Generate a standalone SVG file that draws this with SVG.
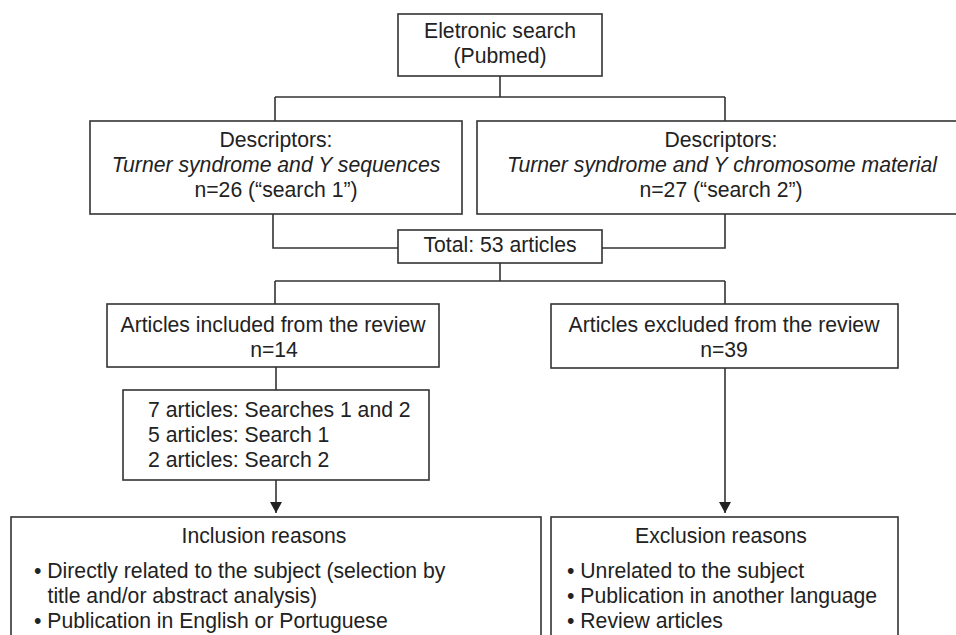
<svg xmlns="http://www.w3.org/2000/svg" width="956" height="635" viewBox="0 0 956 635">
<defs>
<style>
.box{fill:#fff;stroke:#333;stroke-width:1.6}
.ln{fill:none;stroke:#333;stroke-width:1.6}
text{font-family:"Liberation Sans",Arial,Helvetica,sans-serif;font-size:21.2px;fill:#222}
.c{text-anchor:middle}
.i{font-style:italic}
</style>
<marker id="ah" viewBox="0 0 11 12" refX="11" refY="6" markerWidth="11" markerHeight="12" markerUnits="userSpaceOnUse" orient="auto">
<path d="M0,0 L11,6 L0,12 Z" fill="#222"/>
</marker>
</defs>
<rect width="956" height="635" fill="#fff"/>
<g id="connectors">
<path class="ln" d="M500,76 V97 M275,97 H725 M275,97 V121 M725,97 V121"/>
<path class="ln" d="M273,214 V248 H398 M725,214 V248 H602"/>
<path class="ln" d="M500,263 V281 M275,281 H725 M275,281 V304 M725,281 V304"/>
<path class="ln" d="M276,367 V390"/>
<line class="ln" x1="276" y1="480" x2="276" y2="513" marker-end="url(#ah)"/>
<line class="ln" x1="725" y1="368" x2="725" y2="513" marker-end="url(#ah)"/>
</g>
<g id="search">
<rect class="box" x="398" y="14" width="204" height="62"/>
<text class="c" x="500" y="38">Eletronic search</text>
<text class="c" x="500" y="63">(Pubmed)</text>
</g>
<g id="desc1">
<rect class="box" x="90" y="121" width="372" height="93"/>
<text class="c" x="276" y="147">Descriptors:</text>
<text class="c i" x="276" y="172">Turner syndrome and Y sequences</text>
<text class="c" x="276" y="197">n=26 (“search 1”)</text>
</g>
<g id="desc2">
<rect class="box" x="477" y="121" width="490" height="93"/>
<text class="c" x="721" y="147">Descriptors:</text>
<text class="c i" x="722" y="172">Turner syndrome and Y chromosome material</text>
<text class="c" x="721" y="197">n=27 (“search 2”)</text>
</g>
<g id="total">
<rect class="box" x="398" y="230" width="204" height="33"/>
<text class="c" x="500" y="252">Total: 53 articles</text>
</g>
<g id="included">
<rect class="box" x="107" y="304" width="332" height="63"/>
<text class="c" x="273" y="332">Articles included from the review</text>
<text class="c" x="274" y="357">n=14</text>
</g>
<g id="excluded">
<rect class="box" x="551" y="304" width="347" height="64"/>
<text class="c" x="724" y="332">Articles excluded from the review</text>
<text class="c" x="724" y="357">n=39</text>
</g>
<g id="breakdown">
<rect class="box" x="123" y="390" width="306" height="90"/>
<text x="148" y="417">7 articles: Searches 1 and 2</text>
<text x="148" y="442">5 articles: Search 1</text>
<text x="148" y="467">2 articles: Search 2</text>
</g>
<g id="inclusion">
<rect class="box" x="11" y="517" width="530" height="130"/>
<text class="c" x="264" y="543">Inclusion reasons</text>
<text x="34" y="578">• Directly related to the subject (selection by</text>
<text x="47.5" y="603">title and/or abstract analysis)</text>
<text x="34" y="628">• Publication in English or Portuguese</text>
</g>
<g id="exclusion">
<rect class="box" x="551" y="517" width="347" height="130"/>
<text class="c" x="721" y="543">Exclusion reasons</text>
<text x="567" y="578">• Unrelated to the subject</text>
<text x="567" y="603">• Publication in another language</text>
<text x="567" y="628">• Review articles</text>
</g>
</svg>
